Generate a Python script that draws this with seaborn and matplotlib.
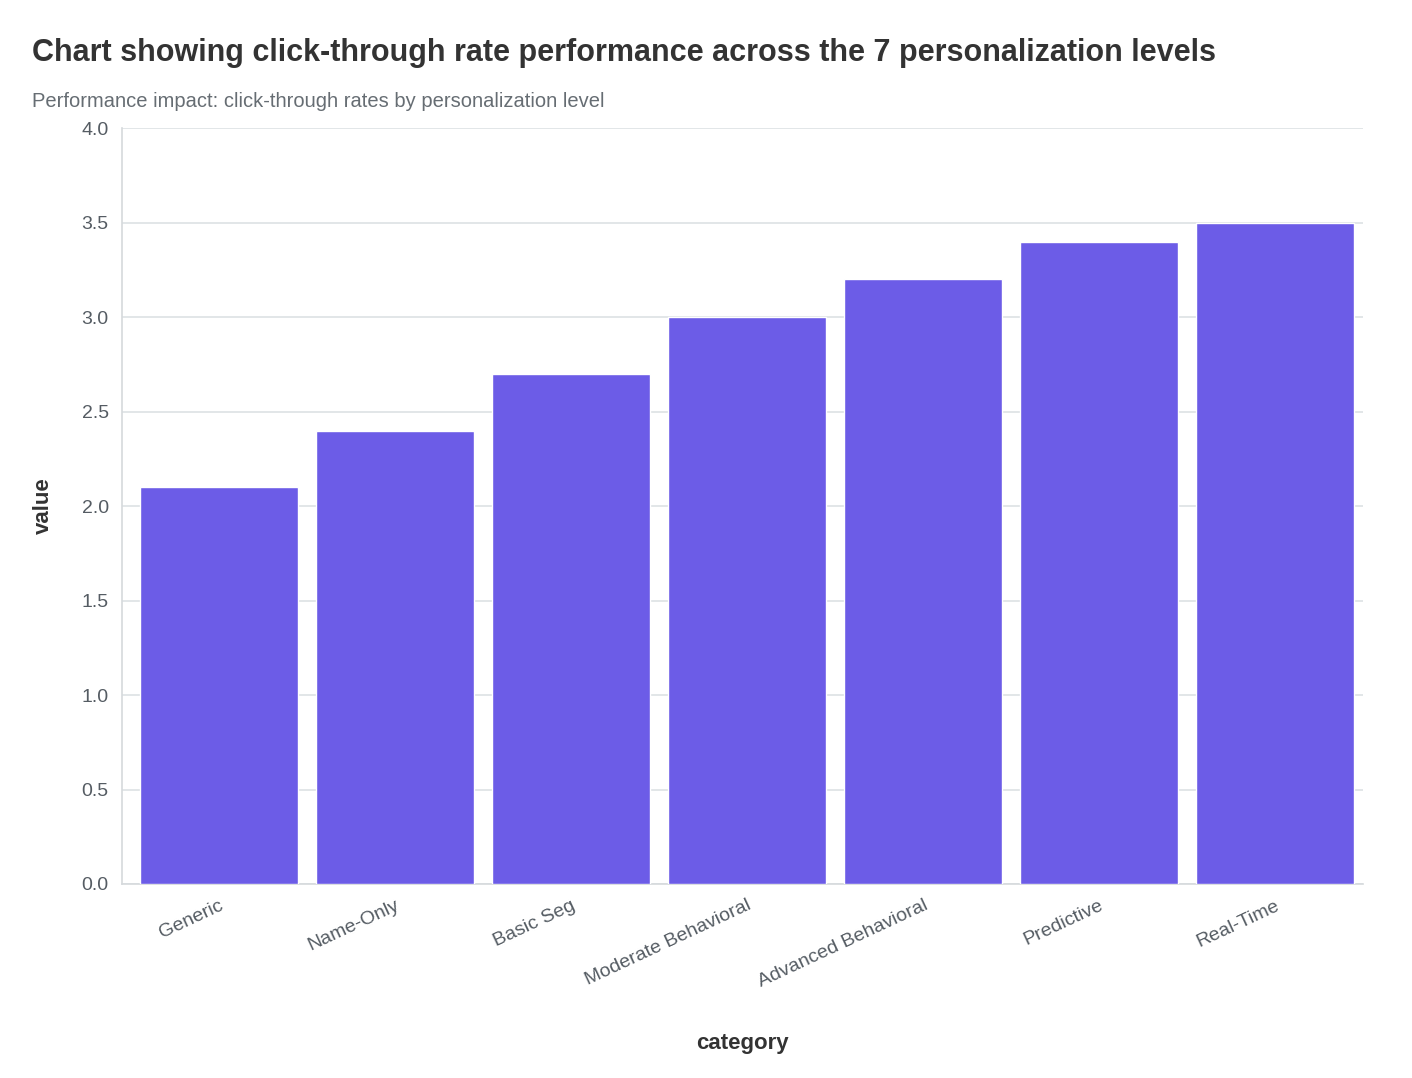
import matplotlib
matplotlib.use("Agg")
import matplotlib.pyplot as plt
import seaborn as sns
import pandas as pd

categories = ["Generic", "Name-Only", "Basic Seg", "Moderate Behavioral",
              "Advanced Behavioral", "Predictive", "Real-Time"]
values = [2.1, 2.4, 2.7, 3.0, 3.2, 3.4, 3.5]
yticks = [0.0, 0.5, 1.0, 1.5, 2.0, 2.5, 3.0, 3.5, 4.0]

sns.set_style("white")
plt.rcParams['font.family'] = ['Liberation Sans', 'DejaVu Sans']

df = pd.DataFrame({"category": categories, "value": values})
fig = plt.figure(figsize=(14.12, 10.78), dpi=100)
ax = fig.add_axes([0.0864, 0.180, 0.879, 0.701])
sns.barplot(data=df, x="category", y="value", color="#6C5CE7", saturation=1,
            width=0.9, ax=ax, zorder=3)
ax.set_ylim(0, 4.0)
ax.set_xlim(-0.55, 6.5)
ax.set_yticks(yticks)
ax.set_yticklabels([f"{t:.1f}" for t in yticks])
ax.grid(axis="y", color="#dde1e4", linewidth=1.2, zorder=0)
for s in ["top", "right"]:
    ax.spines[s].set_visible(False)
for s in ["left", "bottom"]:
    ax.spines[s].set_color("#d5d9dc")
    ax.spines[s].set_linewidth(1.2)
ax.tick_params(axis="both", colors="#d5d9dc", labelcolor="#555c63",
               labelsize=14, length=6, width=1.2)
plt.setp(ax.get_xticklabels(), rotation=25, ha="right", rotation_mode="anchor")
ax.set_xlabel("category", fontsize=16, fontweight="bold", color="#333333", labelpad=30)
ax.set_ylabel("value", fontsize=16, fontweight="bold", color="#333333", labelpad=20)

fig.text(0.0227, 0.965, "Chart showing click-through rate performance across the 7 personalization levels",
         fontsize=22, fontweight="bold", color="#333333", va="top")
fig.text(0.0227, 0.915, "Performance impact: click-through rates by personalization level",
         fontsize=14.5, color="#666d73", va="top")
fig.savefig("out.png", dpi=100, facecolor="white")
